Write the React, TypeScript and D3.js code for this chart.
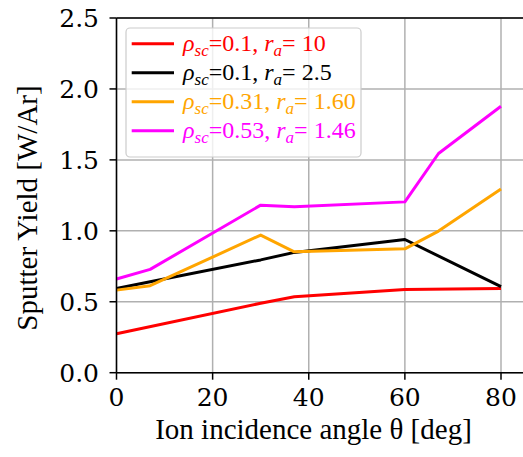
import React from 'react';
import * as d3 from 'd3';

// values
const angleRed = [0, 30, 37, 60, 80];
const yieldRed = [0.275, 0.49, 0.535, 0.587, 0.594];

const angleBlack = [0, 7, 30, 37, 60, 80];
const yieldBlack = [0.594, 0.641, 0.795, 0.848, 0.939, 0.606];

const angleOrange = [0, 7, 30, 37, 60, 67, 80];
const yieldOrange = [0.582, 0.613, 0.97, 0.852, 0.873, 0.998, 1.294];

const angleMagenta = [0, 7, 30, 37, 60, 67, 80];
const yieldMagenta = [0.66, 0.728, 1.181, 1.169, 1.204, 1.545, 1.878];

const xTicks = [0, 20, 40, 60, 80];
const yTicks = [0, 0.5, 1.0, 1.5, 2.0, 2.5];

const series = [
  { x: angleRed, y: yieldRed, color: '#ff0000', rho: '0.1', ra: ' 10' },
  { x: angleBlack, y: yieldBlack, color: '#000000', rho: '0.1', ra: ' 2.5' },
  { x: angleOrange, y: yieldOrange, color: '#ffa500', rho: '0.31', ra: ' 1.60' },
  { x: angleMagenta, y: yieldMagenta, color: '#ff00ff', rho: '0.53', ra: ' 1.46' },
];

const settings = {
  width: 523,
  height: 457,
  left: 116.5,
  top: 18,
  bottom: 372.7,
  tickFont: '"DejaVu Serif", serif',
  textFont: '"Liberation Serif", serif',
};

export default function App() {
  const { width, height, left, top, bottom, tickFont, textFont } = settings;

  const xScale = d3.scaleLinear().domain([0, 80]).range([left, 501]);
  const yScale = d3.scaleLinear().domain([0, 2.5]).range([bottom, top]);
  const xEnd = xScale(85);

  const line = d3.line<number>()
    .x((d) => d[0])
    .y((d) => d[1]);

  return (
    <svg width={width} height={height} style={{ position: 'absolute', left: 0, top: 0 }}>
      <rect width={width} height={height} fill="#ffffff" />

      {/* grid */}
      <g stroke="#b0b0b0" strokeWidth={1.5}>
        {xTicks.map((t) => (
          <line key={'gx' + t} x1={xScale(t)} x2={xScale(t)} y1={top} y2={bottom} />
        ))}
        {yTicks.map((t) => (
          <line key={'gy' + t} x1={left} x2={xEnd} y1={yScale(t)} y2={yScale(t)} />
        ))}
      </g>

      {/* data */}
      {series.map((s, i) => (
        <path
          key={'s' + i}
          d={line(s.x.map((v, j) => [xScale(v), yScale(s.y[j])]) as any) || ''}
          fill="none"
          stroke={s.color}
          strokeWidth={3}
          strokeLinejoin="round"
        />
      ))}

      {/* spines */}
      <g stroke="#000000" strokeWidth={1.5} fill="none">
        <line x1={left} x2={left} y1={top} y2={bottom} />
        <line x1={left} x2={xEnd} y1={bottom} y2={bottom} />
        <line x1={left} x2={xEnd} y1={top} y2={top} />
      </g>

      {/* x ticks */}
      <g fontFamily={tickFont} fontSize={25} textAnchor="middle" fill="#000000">
        {xTicks.map((t) => (
          <g key={'xt' + t}>
            <line x1={xScale(t)} x2={xScale(t)} y1={bottom} y2={bottom + 7} stroke="#000" strokeWidth={1.5} />
            <text x={xScale(t)} y={406}>{t}</text>
          </g>
        ))}
      </g>

      {/* y ticks */}
      <g fontFamily={tickFont} fontSize={25} textAnchor="end" fill="#000000">
        {yTicks.map((t) => (
          <g key={'yt' + t}>
            <line x1={left - 7} x2={left} y1={yScale(t)} y2={yScale(t)} stroke="#000" strokeWidth={1.5} />
            <text x={99} y={yScale(t) + 9}>{d3.format('.1f')(t)}</text>
          </g>
        ))}
      </g>

      <text x={313.5} y={439} fontFamily={textFont} fontSize={29} textAnchor="middle">Ion incidence angle θ [deg]</text>
      <text transform="translate(37, 208) rotate(-90)" fontFamily={textFont} fontSize={29} textAnchor="middle">Sputter Yield [W/Ar]</text>

      {/* legend */}
      <rect x={126} y={28} width={235} height={129} rx={4} fill="#ffffff" fillOpacity={0.8}
            stroke="#cccccc" strokeWidth={1.2} />
      {series.map((s, i) => {
        const cy = 43.7 + i * 29;
        return (
          <g key={'lg' + i}>
            <line x1={131.7} x2={174} y1={cy} y2={cy} stroke={s.color} strokeWidth={3} />
            <text x={183} y={cy + 7} fontFamily={textFont} fontSize={24} fill={s.color}>
              <tspan fontStyle="italic">ρ</tspan>
              <tspan fontStyle="italic" fontSize={17} dy={5}>sc</tspan>
              <tspan dy={-5}>={s.rho}, </tspan>
              <tspan fontStyle="italic">r</tspan>
              <tspan fontStyle="italic" fontSize={17} dy={5}>a</tspan>
              <tspan dy={-5}>={s.ra}</tspan>
            </text>
          </g>
        );
      })}
    </svg>
  );
}
